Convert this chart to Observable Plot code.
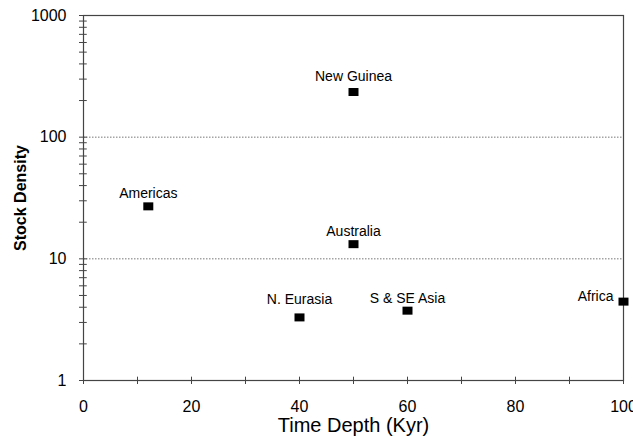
<!DOCTYPE html>
<html>
<head>
<meta charset="utf-8">
<script src="https://cdn.jsdelivr.net/npm/d3@7"></script>
<script src="https://cdn.jsdelivr.net/npm/@observablehq/plot@0.6"></script>
<style>
  html, body { margin: 0; padding: 0; background: #fff; }
</style>
</head>
<body>
<div id="chart"></div>
<script>
const regions = ["New Guinea", "Americas", "Australia", "N. Eurasia", "S & SE Asia", "Africa"];
const timeDepth = [50, 12, 50, 40, 60, 100];
const stockDensity = [235, 27, 13.2, 3.3, 3.75, 4.45];
const xTicks = [0, 10, 20, 30, 40, 50, 60, 70, 80, 90, 100];
const xLabels = [0, 20, 40, 60, 80, 100];
const yMajor = [1, 10, 100, 1000];
const yTicks = [];
for (const p of [1, 10, 100]) for (let m = 1; m < 10; m++) yTicks.push(p * m);
yTicks.push(1000);
const gridLines = [10, 100];

const data = regions.map((r, i) => ({region: r, x: timeDepth[i], y: stockDensity[i]}));
const rectSymbol = {draw(ctx) { ctx.rect(-5, -4, 10, 8); }};
const pick = (names) => data.filter(d => names.includes(d.region));

const chart = Plot.plot({
  width: 633,
  height: 437,
  marginLeft: 83,
  marginRight: 10,
  marginTop: 15,
  marginBottom: 57,
  x: {domain: [0, 100]},
  y: {type: "log", domain: [1, 1000]},
  style: {fontFamily: "'Liberation Sans', Arial, sans-serif", fontSize: "16px", color: "#000", background: "#fff", overflow: "visible"},
  marks: [
    Plot.ruleY(gridLines, {stroke: "#777", strokeDasharray: "1.5,1.5", strokeWidth: 1}),
    Plot.frame({stroke: "#444", strokeWidth: 1.2}),
    Plot.axisX({ticks: xTicks, tickSize: 4, stroke: "#444", tickFormat: () => "", label: null}),
    Plot.ruleX(xTicks, {y1: 1, y2: 1.065, stroke: "#444"}),
    Plot.axisY({ticks: yTicks, tickSize: 4, stroke: "#444", tickFormat: () => "", label: null}),
    Plot.ruleY(yTicks, {x1: 0, x2: 0.7, stroke: "#444"}),
    Plot.text(xLabels, {x: d => d, text: d => String(d), frameAnchor: "bottom", lineAnchor: "middle", dy: 26, fontSize: 16, fill: "#000"}),
    Plot.text(yMajor, {y: d => d, text: d => String(d), frameAnchor: "left", textAnchor: "end", lineAnchor: "middle", dx: -17, fontSize: 16, fill: "#000"}),
    Plot.dot(data, {x: "x", y: "y", symbol: rectSymbol, fill: "#000", stroke: "none"}),
    Plot.text(pick(["Americas", "Australia", "S & SE Asia"]), {x: "x", y: "y", text: "region", lineAnchor: "bottom", dy: -8, fontSize: 14, fill: "#000"}),
    Plot.text(pick(["New Guinea"]), {x: "x", y: "y", text: "region", lineAnchor: "bottom", dy: -11, fontSize: 14, fill: "#000"}),
    Plot.text(pick(["N. Eurasia"]), {x: "x", y: "y", text: "region", lineAnchor: "bottom", dy: -13, fontSize: 14, fill: "#000"}),
    Plot.text(pick(["Africa"]), {x: "x", y: "y", text: "region", textAnchor: "end", lineAnchor: "bottom", dx: -10, dy: -1, fontSize: 14, fill: "#000"}),
    Plot.text(["Time Depth (Kyr)"], {frameAnchor: "bottom", textAnchor: "middle", lineAnchor: "middle", dy: 45, fontSize: 20, fill: "#000"}),
    Plot.text(["Stock Density"], {frameAnchor: "left", textAnchor: "middle", dx: -63, rotate: -90, fontSize: 16, fontWeight: "bold", fill: "#000"})
  ]
});
document.getElementById("chart").appendChild(chart);
</script>
</body>
</html>
